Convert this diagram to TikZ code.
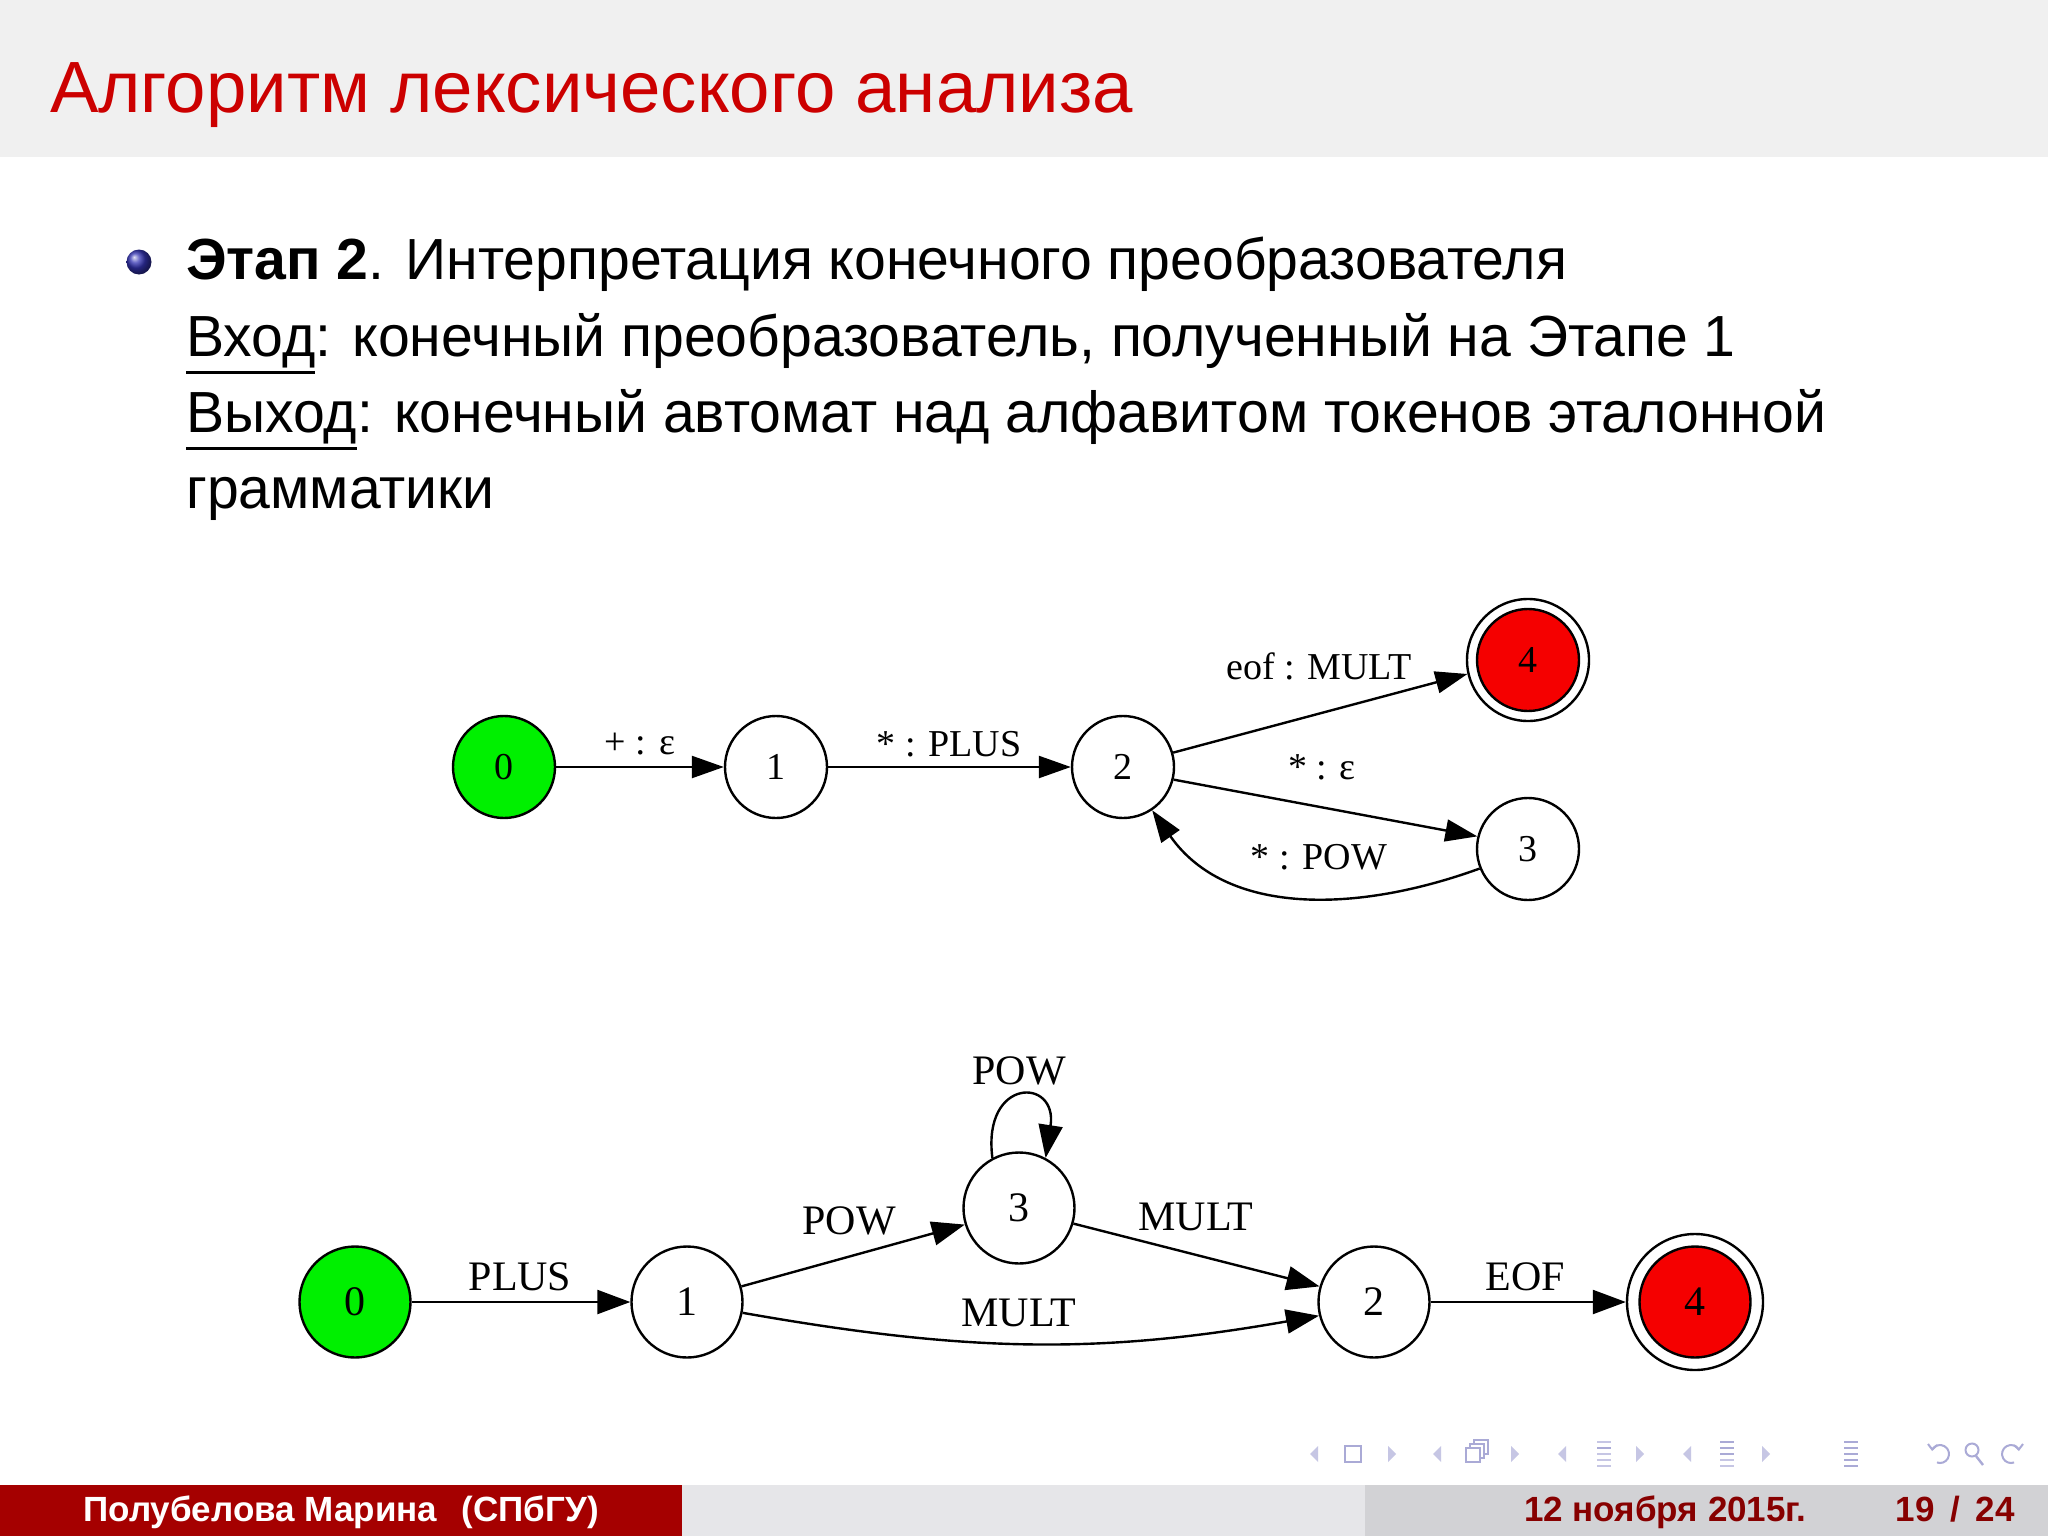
\documentclass[tikz,border=0pt]{standalone}
\usepackage{fontspec}
\setmainfont{Liberation Sans}
\newfontfamily\bodyfont{Liberation Sans}[FakeStretch=0.985]
\newfontfamily\gv{Liberation Serif}
\usetikzlibrary{arrows.meta}
\definecolor{headbg}{RGB}{240,240,240}
\definecolor{titlered}{RGB}{204,0,0}
\definecolor{footred}{RGB}{165,0,0}
\definecolor{footmid}{RGB}{230,230,233}
\definecolor{footright}{RGB}{210,210,213}
\definecolor{datered}{RGB}{135,0,0}
\definecolor{ballblue}{RGB}{51,51,179}
\definecolor{gvgreen}{RGB}{0,240,0}
\definecolor{gvred}{RGB}{245,0,0}
\definecolor{navc}{RGB}{198,198,228}
\definecolor{navd}{RGB}{170,170,214}
\newlength\ulwd
\newcommand\myul[1]{\settowidth{\ulwd}{#1}\rlap{\rule[-18pt]{\ulwd}{2.8pt}}#1}
\begin{document}
\begin{tikzpicture}[x=1pt,y=-1pt,
  body/.style={anchor=base west, inner sep=0, font=\bodyfont\fontsize{58}{70}\selectfont},
  st/.style={circle, draw, line width=2.4pt, minimum size=102pt, inner sep=0, font=\gv\fontsize{38}{40}\selectfont},
  stb/.style={st, minimum size=111pt, font=\gv\fontsize{42}{44}\selectfont},
  lab/.style={inner sep=0, font=\gv\fontsize{38}{40}\selectfont},
  labb/.style={inner sep=0, font=\gv\fontsize{42}{44}\selectfont},
  ed/.style={line width=2.4pt, -{Triangle[length=32pt,width=22pt]}},
  edb/.style={line width=2.4pt, -{Triangle[length=33pt,width=24pt]}},
  foot/.style={inner sep=0, font=\bfseries\fontsize{35}{40}\selectfont},
]
\useasboundingbox (0,0) rectangle (2048,1536);
\fill[white] (0,0) rectangle (2048,1536);
% header
\fill[headbg] (0,0) rectangle (2048,157);
\node[anchor=base west, inner sep=0, text=titlered, font=\fontsize{72.6}{80}\selectfont] (title) at (50,113) {Алгоритм лексического анализа};
% body
\shade[ball color=ballblue] (139,262) circle (12.5);
\node[body] (l1) at (186,279) {\textbf{Этап 2}. Интерпретация конечного преобразователя};
\node[body] (l2) at (186,356) {\myul{Вход}: конечный преобразователь, полученный на Этапе 1};
\node[body] (l3) at (186,432) {\myul{Выход}: конечный автомат над алфавитом токенов эталонной};
\node[body] (l4) at (186,508) {грамматики};
% top graph
\node[st, fill=gvgreen] (n0) at (504,767) {0};
\node[st] (n1) at (776,767) {1};
\node[st] (n2) at (1123,767) {2};
\node[st, minimum size=122pt] (n4) at (1528,660) {};
\node[st, fill=gvred] (n4i) at (1528,660) {4};
\node[st] (n3) at (1528,849) {3};
\draw[ed] (n0) -- (n1);
\draw[ed] (n1) -- (n2);
\draw[ed] (n2.16) -- (n4.193);
\draw[ed] (n2.-14) -- (n3.166);
\draw[ed] (n3.202) to[out=200,in=-55] (n2.-56);
\node[lab] (t01) at (640,744) {+ : ε};
\node[lab] (t12) at (949,744) {* : PLUS};
\node[lab] (t24) at (1319,666) {eof : MULT};
\node[lab] (t23) at (1322,767) {* : ε};
\node[lab] (t32) at (1319,857) {* : POW};
% bottom graph
\node[stb, fill=gvgreen] (m0) at (355,1302) {0};
\node[stb] (m1) at (687,1302) {1};
\node[stb] (m3) at (1019,1208) {3};
\node[stb] (m2) at (1374,1302) {2};
\node[stb, minimum size=136pt] (m4) at (1695,1302) {};
\node[stb, fill=gvred] (m4i) at (1695,1302) {4};
\draw[edb] (m0) -- (m1);
\draw[edb] (m1.16) -- (m3.197);
\draw[edb] (m3.-16) -- (m2.164);
\draw[edb] (m1.-11) to[out=-10,in=190] (m2.194);
\draw[edb] (m3.118) .. controls (982,1077) and (1058,1077) .. (m3.62);
\draw[edb] (m2) -- (m4);
\node[labb] (u01) at (520,1277) {PLUS};
\node[labb] (u13) at (849,1221) {POW};
\node[labb] (u33) at (1019,1071) {POW};
\node[labb] (u32) at (1196,1217) {MULT};
\node[labb] (u12) at (1019,1313) {MULT};
\node[labb] (u24) at (1525,1277) {EOF};
% navigation symbols
\foreach \x in {1314,1437,1562,1687} \fill[navc] (\x+4,1446) -- (\x-4,1454) -- (\x+4,1462) -- cycle;
\foreach \x in {1392,1515,1640,1766} \fill[navc] (\x-4,1446) -- (\x+4,1454) -- (\x-4,1462) -- cycle;
\draw[navd, line width=2pt] (1345,1446) rectangle (1361,1462);
\draw[navd, line width=2pt] (1474,1440) rectangle (1488,1454);
\draw[navd, line width=2pt, fill=white] (1470,1444) rectangle (1484,1458);
\draw[navd, line width=2pt, fill=white] (1466,1448) rectangle (1480,1462);
\foreach \y/\c in {1442/navc,1448/navd,1454/navc,1460/navc,1466/navc} \draw[\c, line width=2.5pt] (1597,\y) -- (1611,\y);
\foreach \y/\c in {1442/navd,1448/navd,1454/navd,1460/navc,1466/navc} \draw[\c, line width=2.5pt] (1720,\y) -- (1734,\y);
\foreach \y in {1442,1448,1454,1460,1466} \draw[navd, line width=2.5pt] (1844,\y) -- (1858,\y);
\draw[navd, line width=2pt] (1932.2,1449.5) arc[start angle=-150, end angle=110, radius=9];
\draw[navd, line width=2pt] (1928,1444) -- (1932.2,1449.5) -- (1937,1445);
\draw[navd, line width=2pt] (1972,1450) circle (6.5);
\draw[navd, line width=2.4pt] (1976,1456) -- (1983,1465);
\draw[navd, line width=2pt] (2018.8,1449.5) arc[start angle=-30, end angle=-290, radius=9];
\draw[navd, line width=2pt] (2023,1444) -- (2018.8,1449.5) -- (2014,1445);
% footer
\fill[footred] (0,1485) rectangle (682,1536);
\fill[footmid] (682,1485) rectangle (1365,1536);
\fill[footright] (1365,1485) rectangle (2048,1536);
\node[foot, anchor=base, text=white] (auth) at (341,1521) {Полубелова Марина\hspace{0.7em}(СПбГУ)};
\node[foot, anchor=base west, text=datered] (date) at (1524,1521) {12 ноября 2015г.};
\node[foot, anchor=base east, text=datered] (page) at (2015,1521) {19\hspace{0.45em}/\hspace{0.45em}24};
\end{tikzpicture}
\end{document}
